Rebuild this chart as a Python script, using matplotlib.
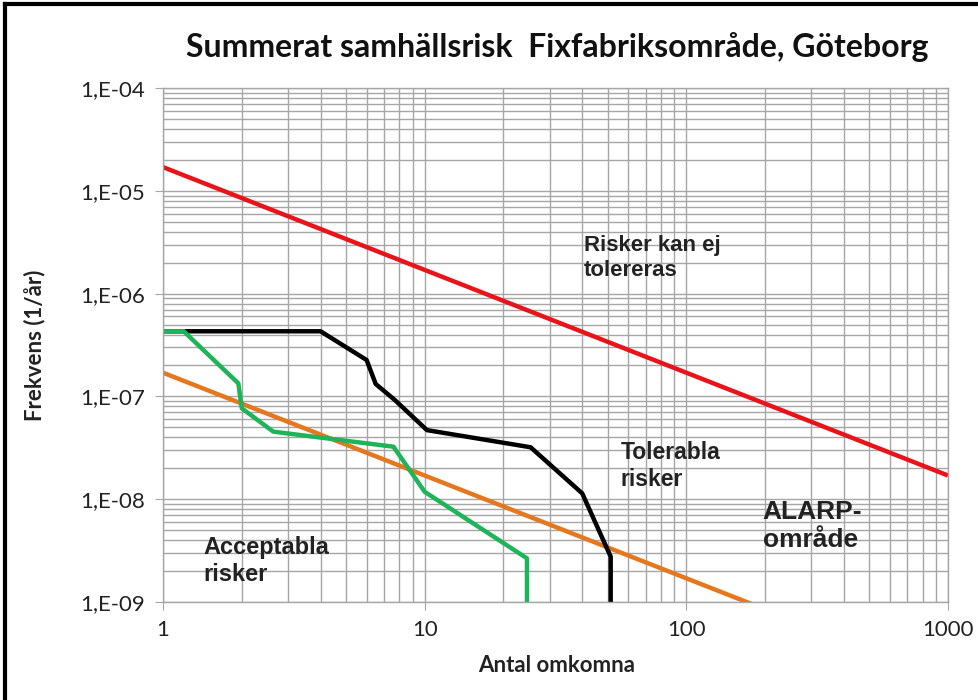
import matplotlib
matplotlib.use("Agg")
import matplotlib.pyplot as plt
import numpy as np
from matplotlib.ticker import LogLocator, NullFormatter, FixedLocator, FixedFormatter

# ---- data ----
x_limit = [1, 1000]
upper_coef = 1.7e-5      # F = coef / N  (upper criterion, red)
lower_coef = 1.7e-7      # F = coef / N  (lower criterion, orange)

black_n = [1, 4.0, 6.0, 6.5, 7.7, 10.2, 25.4, 40, 51.4, 51.4]
black_f = [4.3e-7, 4.3e-7, 2.26e-7, 1.32e-7, 9.2e-8, 4.7e-8, 3.2e-8, 1.14e-8, 2.76e-9, 1e-9]

green_n = [1, 1.2, 1.94, 2.0, 2.64, 7.6, 10, 24.6, 24.6]
green_f = [4.3e-7, 4.3e-7, 1.34e-7, 7.66e-8, 4.54e-8, 3.24e-8, 1.18e-8, 2.66e-9, 1e-9]

y_ticks = [1e-9, 1e-8, 1e-7, 1e-6, 1e-5, 1e-4]
y_ticklabels = ["1,E-09", "1,E-08", "1,E-07", "1,E-06", "1,E-05", "1,E-04"]
x_ticks = [1, 10, 100, 1000]
x_ticklabels = ["1", "10", "100", "1000"]

title = "Summerat samhällsrisk  Fixfabriksområde, Göteborg"
xlabel = "Antal omkomna"
ylabel = "Frekvens (1/år)"

fig = plt.figure(figsize=(9.79, 7.0), dpi=100)
ax = fig.add_axes([163/979, 1-602/700, (948-163)/979, (602-88)/700])
ax.set_xscale("log")
ax.set_yscale("log")
ax.set_xlim(1, 1000)
ax.set_ylim(1e-9, 1e-4)

grid_c = "#a6a6a6"
ax.xaxis.set_minor_locator(LogLocator(base=10, subs=np.arange(2, 10)))
ax.yaxis.set_minor_locator(LogLocator(base=10, subs=np.arange(2, 10)))
ax.xaxis.set_minor_formatter(NullFormatter())
ax.yaxis.set_minor_formatter(NullFormatter())
ax.grid(True, which="both", color=grid_c, linewidth=1.0)
ax.set_axisbelow(True)
ax.xaxis.set_major_locator(FixedLocator(x_ticks))
ax.xaxis.set_major_formatter(FixedFormatter(x_ticklabels))
ax.yaxis.set_major_locator(FixedLocator(y_ticks))
ax.yaxis.set_major_formatter(FixedFormatter(y_ticklabels))
ax.tick_params(which="minor", length=0)
ax.tick_params(which="major", length=6, color=grid_c, labelsize=16, pad=7, labelcolor="#222222")
for lab in ax.get_xticklabels() + ax.get_yticklabels():
    lab.set_fontfamily("Lato")
for s in ax.spines.values():
    s.set_color(grid_c)
    s.set_linewidth(1.0)

xx = np.array(x_limit, dtype=float)
ax.plot(xx, upper_coef / xx, color="#e8141a", linewidth=3.2, solid_capstyle="butt")
ax.plot(xx, lower_coef / xx, color="#e5781e", linewidth=3.2, solid_capstyle="butt")
ax.plot(black_n, black_f, color="black", linewidth=3.2, clip_on=True)
ax.plot(green_n, green_f, color="#1fb35a", linewidth=3.2, clip_on=True)

def px_to_data(px, py):
    return 10 ** ((px - 163) / 261.3), 10 ** (-4 - (py - 88) / 102.8)

tkw = dict(fontfamily="Liberation Sans", fontweight="bold", color="#222222",
           ha="left", va="center", linespacing=1.25)
ax.text(*px_to_data(583, 258), "Risker kan ej\ntolereras", fontsize=16, **tkw)
ax.text(*px_to_data(620, 466), "Tolerabla\nrisker", fontsize=16.5, **tkw)
ax.text(*px_to_data(762, 526), "ALARP-\nområde", fontsize=19, **tkw)
ax.text(*px_to_data(203, 561), "Acceptabla\nrisker", fontsize=17, **tkw)

fig.text(557/979, 1-47/700, title, fontsize=23, fontweight="bold", fontfamily="Lato",
         ha="center", va="center", color="#111111")
fig.text(557/979, 1-665/700, xlabel, fontsize=16, fontweight="bold", fontfamily="Lato",
         ha="center", va="center", color="#222222")
fig.text(35/979, 1-345/700, ylabel, fontsize=16, fontweight="bold", fontfamily="Lato",
         ha="center", va="center", rotation=90, color="#222222")

# figure border (top and left visible)
fig.add_artist(plt.Line2D([0.005, 0.005], [0, 0.994], transform=fig.transFigure, color="black", linewidth=3))
fig.add_artist(plt.Line2D([0.005, 1.0], [0.994, 0.994], transform=fig.transFigure, color="black", linewidth=3))

fig.savefig("out.png", dpi=100)
